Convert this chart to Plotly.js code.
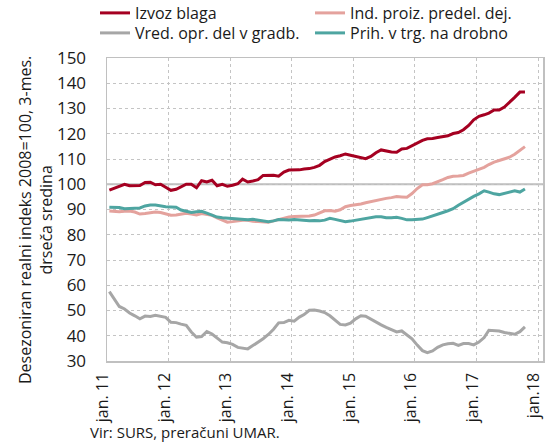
<!DOCTYPE html>
<html>
<head>
<meta charset="utf-8">
<script src="https://cdn.plot.ly/plotly-3.0.1.min.js"></script>
<style>html,body{margin:0;padding:0;background:#fff;}#chart{width:560px;height:445px;}</style>
</head>
<body>
<div id="chart"></div>
<script>
// Monthly data, Jan 2011 – Oct 2017 (3-month moving averages, 2008=100)
const startYear = 2011, startMonth = 1;
const izvozBlaga = [97.7,98.6,99.3,100,99.4,99.4,99.5,100.7,100.8,99.8,100,98.8,97.6,98,99,100,100,98.6,101.4,100.9,101.6,99.4,100,99.2,99.6,100.2,102,100.9,101.3,101.8,103.5,103.5,103.6,103.2,104.8,105.6,105.5,105.7,106,106.2,106.7,107.5,109,110,110.8,111.3,112,111.5,111,110.5,110.1,111,112.5,113.6,113.2,112.8,112.7,114,114.2,115.3,116.5,117.4,118,118.1,118.5,118.8,119.2,120.1,120.5,121.6,123.3,125.5,126.9,127.5,128.2,129.4,129.4,130.6,132.3,134.4,136.5,136.5];
const indProiz = [89.4,89.2,89.1,89.3,89.4,89,88.2,88.4,88.8,89,88.8,88.4,87.7,87.8,88.2,88.5,88.2,87.8,88.4,88,87.7,86.7,85.7,85,85.2,85.6,85.7,85.7,85.3,85.2,85,85,85.5,86,86.4,87,87.2,87.2,87.2,87.4,87.8,88.6,89.5,89.6,89.3,89.9,91.1,91.6,91.8,92.2,92.7,93.2,93.7,94,94.4,94.7,95.1,95,94.9,96.3,98.3,99.8,99.8,100.2,100.9,101.8,102.7,103.2,103.3,103.5,104.4,105.2,105.9,106.7,107.8,108.8,109.4,110,110.7,111.9,113.3,114.9];
const vredGradb = [57.5,54.4,51.6,50.6,49,47.9,46.7,47.8,47.6,48.1,47.6,47.3,45.3,45.2,44.6,44.1,41.5,39.4,39.7,41.7,40.7,39.2,37.5,37.2,36.6,35.4,35,34.8,36.1,37.4,38.8,40.5,42.6,45.1,45.2,46.1,45.8,47.4,48.4,50.1,50.2,49.8,49.2,47.9,46.3,44.5,44.3,45,46.7,47.9,47.7,46.5,45.3,44.3,43.3,42.3,41.5,41.9,40.3,38.8,36.3,34.1,33.3,34,35.4,36.4,36.8,37,36.2,36.9,36.9,36.4,37.5,39.3,42.2,42.2,41.9,41.3,41.1,40.6,41.6,43.5];
const prihTrg = [90.9,90.9,90.8,90.3,90.3,90.3,90.6,91.4,91.8,91.8,91.3,91.1,91,90.9,89.8,89.3,88.8,89.1,89.3,88.6,87.8,87,86.7,86.5,86.5,86.3,85.9,85.9,86.1,85.8,85.5,85.2,85.5,86,85.9,85.8,86,85.8,85.8,85.5,85.6,85.5,85.8,86.5,86.1,85.6,85.2,85.4,85.8,86,86.5,86.9,87.1,87.1,86.7,86.7,86.9,86.5,85.9,85.9,86,86.2,86.8,87.4,88.2,88.8,89.5,90.3,91.7,92.9,94,95.2,96.2,97.4,96.9,96.2,95.9,96.5,97,97.4,96.9,98.1];
const seriesNames = ['Izvoz blaga','Ind. proiz. predel. dej.','Vred. opr. del v gradb.','Prih. v trg. na drobno'];
const tickYears = [2011,2012,2013,2014,2015,2016,2017,2018];
const tickLabels = ['jan. 11','jan. 12','jan. 13','jan. 14','jan. 15','jan. 16','jan. 17','jan.18'];
const yTitle = 'Desezoniran realni indeks 2008=100, 3-mes.<br>drseča sredina';
const sourceNote = 'Vir: SURS, preračuni UMAR.';

function pad(n){return (n<10?'0':'')+n;}
const dates = izvozBlaga.map((_, i) => {
  const t = startMonth - 1 + i;
  const y = startYear + Math.floor(t/12);
  const m = t % 12 + 1;
  return y + '-' + pad(m) + '-15';
});

const colors = ['#a50021','#e4a29d','#a6a6a6','#4ea5a1'];
const legendOf = ['legend','legend','legend2','legend2'];
const data = [izvozBlaga, indProiz, vredGradb, prihTrg].map((vals, k) => ({
  type: 'scatter', mode: 'lines', x: dates, y: vals, name: seriesNames[k],
  legend: legendOf[k],
  line: {color: colors[k], width: 3}
}));

const FONT = 'Open Sans, sans-serif';
const legendBase = {
  orientation: 'h', xref: 'container', yref: 'container',
  x: 95/560, xanchor: 'left', yanchor: 'middle',
  entrywidth: 170, entrywidthmode: 'pixels',
  font: {family: FONT, size: 16, color: '#1a1a1a'},
  bgcolor: 'rgba(0,0,0,0)', tracegroupgap: 0, itemwidth: 30
};
const layout = {
  width: 560, height: 445,
  margin: {l: 107, r: 17, t: 58, b: 84},
  paper_bgcolor: '#fff', plot_bgcolor: '#fff',
  font: {family: FONT, size: 16, color: '#1a1a1a'},
  showlegend: true,
  legend: Object.assign({}, legendBase, {y: 1 - 13/445}),
  legend2: Object.assign({}, legendBase, {y: 1 - 33/445}),
  xaxis: {
    type: 'date',
    range: ['2011-01-01', '2018-01-30'],
    tickvals: tickYears.map(y => y + '-01-01'),
    ticktext: tickLabels,
    tickangle: -90,
    ticks: '', ticklabelstandoff: 4, ticklabelshift: -4,
    showgrid: true, gridcolor: '#c4c4c4', griddash: 'dot', gridwidth: 1,
    showline: true, linecolor: '#c0c0c0', linewidth: 1.5, mirror: true,
    zeroline: false,
    tickfont: {family: FONT, size: 16, color: '#1a1a1a'}
  },
  yaxis: {
    range: [30, 150],
    tickvals: [30,40,50,60,70,80,90,100,110,120,130,140,150],
    ticks: '', ticklabelstandoff: 16,
    showgrid: true, gridcolor: '#c4c4c4', griddash: 'dot', gridwidth: 1,
    showline: true, linecolor: '#c0c0c0', linewidth: 1.5, mirror: true,
    zeroline: false,
    tickfont: {family: FONT, size: 17, color: '#1a1a1a'}
  },
  shapes: [{
    type: 'line', xref: 'paper', x0: 0, x1: 1, yref: 'y', y0: 100, y1: 100,
    line: {color: '#bdbdbd', width: 2}, layer: 'below'
  }],
  annotations: [
    {text: yTitle, textangle: -90, xref: 'paper', yref: 'paper',
     x: (35-107)/436, y: (361-220)/303, xanchor: 'center', yanchor: 'middle',
     showarrow: false, font: {family: FONT, size: 16, color: '#1a1a1a'}, align: 'center'},
    {text: sourceNote, xref: 'paper', yref: 'paper',
     x: (88-107)/436, y: (361-432)/303, xanchor: 'left', yanchor: 'middle',
     showarrow: false, font: {family: FONT, size: 15, color: '#1a1a1a'}}
  ]
};

Plotly.newPlot('chart', data, layout, {displayModeBar: false, staticPlot: true});
</script>
</body>
</html>
